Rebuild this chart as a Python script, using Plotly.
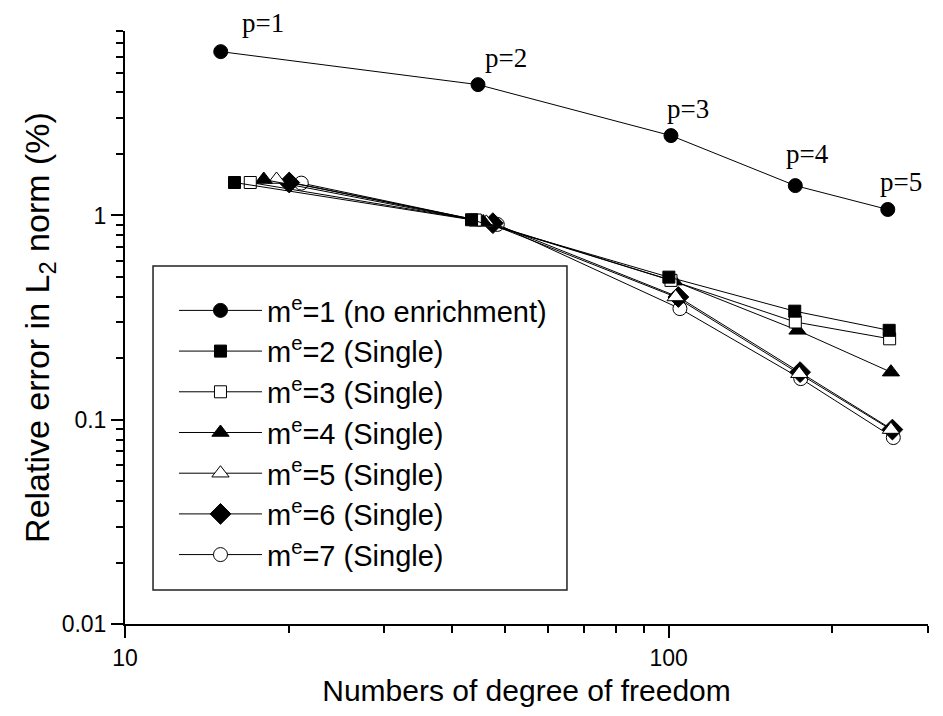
import numpy as np
import plotly.graph_objects as go

# ---- data ----
x_m1 = [15.0, 44.6, 101.0, 171.0, 253.0]
y_m1 = [6.34, 4.37, 2.46, 1.40, 1.07]
p_labels = ["p=1", "p=2", "p=3", "p=4", "p=5"]

x_m2 = [15.9, 43.4, 100.1, 170.6, 254.5]
y_m2 = [1.45, 0.953, 0.499, 0.340, 0.274]
x_m3 = [17.0, 44.1, 101.0, 171.0, 255.0]
y_m3 = [1.45, 0.950, 0.481, 0.301, 0.249]
x_m4 = [18.0, 45.6, 102.3, 172.6, 256.4]
y_m4 = [1.50, 0.930, 0.477, 0.274, 0.171]
x_m5 = [19.0, 46.2, 103.0, 173.9, 256.4]
y_m5 = [1.50, 0.925, 0.399, 0.168, 0.0895]
x_m6 = [20.05, 47.5, 104.2, 174.5, 258.0]
y_m6 = [1.45, 0.917, 0.399, 0.171, 0.0895]
x_m7 = [21.1, 48.4, 104.9, 175.0, 259.0]
y_m7 = [1.44, 0.904, 0.350, 0.159, 0.0818]

series_names = [
    "m<sup>e</sup>=1 (no enrichment)",
    "m<sup>e</sup>=2 (Single)",
    "m<sup>e</sup>=3 (Single)",
    "m<sup>e</sup>=4 (Single)",
    "m<sup>e</sup>=5 (Single)",
    "m<sup>e</sup>=6 (Single)",
    "m<sup>e</sup>=7 (Single)",
]

x_tick_vals = [10, 100]
x_tick_text = ["10", "100"]
y_tick_vals = [0.01, 0.1, 1]
y_tick_text = ["0.01", "0.1", "1"]

# ---- styles ----
styles = [
    dict(symbol="circle", size=14, color="black"),
    dict(symbol="square", size=12, color="black"),
    dict(symbol="square", size=12, color="white"),
    dict(symbol="triangle-up", size=15, color="black"),
    dict(symbol="triangle-up", size=15, color="white"),
    dict(symbol="diamond", size=16, color="black"),
    dict(symbol="circle", size=14, color="white"),
]

xs = [x_m1, x_m2, x_m3, x_m4, x_m5, x_m6, x_m7]
ys = [y_m1, y_m2, y_m3, y_m4, y_m5, y_m6, y_m7]

fig = go.Figure()
order = [6, 5, 4, 3, 2, 1, 0]
for i in order:
    s = styles[i]
    fig.add_trace(go.Scatter(
        x=xs[i], y=ys[i], name=series_names[i], mode="lines+markers",
        legendrank=i + 1, legendgroup=f"g{i}",
        line=dict(color="black", width=1),
        marker=dict(symbol=s["symbol"], size=s["size"], color=s["color"],
                    line=dict(color="black", width=1)),
    ))

# p labels (annotation positions on log axes are given in log10 units)
label_offsets = [(42, 29), (28, 27), (17, 27), (12, 32), (13, 27)]
for xv, yv, t, (dx, dy) in zip(x_m1, y_m1, p_labels, label_offsets):
    fig.add_annotation(x=np.log10(xv), y=np.log10(yv), text=t, showarrow=False,
                       xshift=dx, yshift=dy,
                       font=dict(family="Liberation Serif", size=27, color="black"))

axis_common = dict(
    showline=True, linecolor="black", linewidth=2,
    ticks="outside", ticklen=12, tickwidth=2, tickcolor="black",
    showgrid=False, zeroline=False, mirror=False, automargin=False,
    tickfont=dict(family="Liberation Sans", size=23, color="black"),
    minor=dict(ticks="outside", ticklen=7, tickwidth=2, tickcolor="black",
               dtick="D1", showgrid=False),
)

fig.update_xaxes(type="log", range=[1, 2.4771], tickvals=x_tick_vals,
                 ticktext=x_tick_text,
                 title=dict(text="Numbers of degree of freedom", standoff=10,
                            font=dict(family="Liberation Sans", size=30, color="black")),
                 **axis_common)
fig.update_yaxes(type="log", range=[-2, 0.90309], tickvals=y_tick_vals,
                 ticktext=y_tick_text,
                 title=dict(text="Relative error in L<sub>2</sub> norm (%)", standoff=2,
                            font=dict(family="Liberation Sans", size=34, color="black")),
                 **axis_common)

# legend frame
fig.add_shape(type="rect", xref="paper", yref="paper",
              x0=0.0349, x1=0.5504, y0=0.0573, y1=0.6037,
              line=dict(color="#222222", width=1.5), fillcolor="white", layer="above")

# the page body has an 8px margin; size the figure so the plot area lands where the reference has it
fig.update_layout(
    width=935, height=708,
    margin=dict(l=117, r=15, t=23, b=92),
    paper_bgcolor="white", plot_bgcolor="white",
    font=dict(family="Liberation Sans", color="black"),
    legend=dict(
        x=0.061, y=0.5716, xanchor="left", yanchor="top",
        bgcolor="rgba(0,0,0,0)", borderwidth=0,
        font=dict(family="Liberation Sans", size=29, color="black"),
        itemwidth=83, tracegroupgap=4, traceorder="normal",
    ),
    showlegend=True,
)

fig.write_html("out.html")
